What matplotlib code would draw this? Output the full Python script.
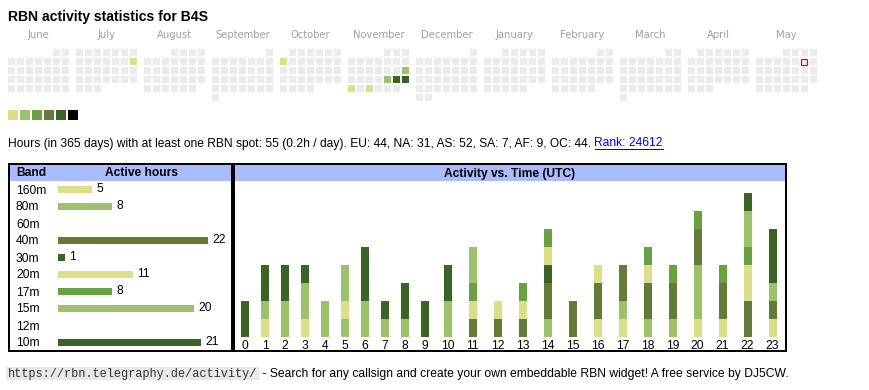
import datetime as dt
import calendar
import matplotlib
matplotlib.use("Agg")
import matplotlib.pyplot as plt
from matplotlib.patches import Rectangle

# ---------------- data ----------------
callsign = "B4S"
month_names = ["June", "July", "August", "September", "October", "November",
               "December", "January", "February", "March", "April", "May"]
first_year, first_month = 2024, 6
today = dt.date(2025, 5, 10)
active_days = [dt.date(2024, 7, 14), dt.date(2024, 10, 7), dt.date(2024, 11, 17),
               dt.date(2024, 11, 22), dt.date(2024, 11, 23), dt.date(2024, 11, 24),
               dt.date(2024, 11, 25), dt.date(2024, 11, 27)]
active_levels = [0, 0, 1, 1, 4, 4, 0, 0]
palette = ["#dae08a", "#9dc06a", "#68a044", "#647a38", "#3a6326", "#000000"]

total_hours = 55
per_day = "0.2h / day"
continents = ["EU", "NA", "AS", "SA", "AF", "OC"]
continent_hours = [44, 31, 52, 7, 9, 44]
rank = 24612

bands = ["160m", "80m", "60m", "40m", "30m", "20m", "17m", "15m", "12m", "10m"]
band_hours = [5, 8, 0, 22, 1, 11, 8, 20, 0, 21]
band_level = [0, 1, 2, 3, 4, 0, 2, 1, 3, 4]

hour_labels = [str(h) for h in range(24)]
h160 = [0, 0, 0, 0, 0, 0, 0, 0, 0, 0, 0, 0, 0, 0, 0, 0, 1, 1, 0, 0, 1, 1, 0, 1]
h80 = [0, 0, 0, 0, 0, 1, 0, 0, 0, 0, 0, 0, 0, 0, 1, 0, 0, 1, 1, 1, 3, 0, 0, 0]
h60 = [0] * 24
h40 = [0, 0, 0, 0, 0, 0, 0, 0, 0, 0, 0, 1, 1, 1, 2, 2, 2, 2, 2, 2, 2, 2, 2, 1]
h30 = [0, 0, 0, 0, 0, 0, 0, 0, 0, 0, 0, 0, 0, 0, 1, 0, 0, 0, 0, 0, 0, 0, 0, 0]
h20 = [0, 1, 0, 1, 0, 1, 0, 0, 0, 0, 0, 1, 1, 1, 1, 0, 1, 0, 1, 0, 0, 0, 2, 0]
h17 = [0, 0, 0, 0, 0, 0, 0, 0, 0, 0, 0, 1, 0, 1, 1, 0, 0, 0, 1, 1, 1, 1, 1, 0]
h15 = [0, 1, 2, 2, 2, 2, 2, 1, 1, 0, 2, 2, 0, 0, 0, 0, 0, 0, 0, 0, 0, 0, 2, 1]
h12 = [0] * 24
h10 = [2, 2, 2, 1, 0, 0, 3, 1, 2, 2, 2, 0, 0, 0, 0, 0, 0, 0, 0, 0, 0, 0, 1, 3]
hourly = [h160, h80, h60, h40, h30, h20, h17, h15, h12, h10]

footer_url = "https://rbn.telegraphy.de/activity/"
footer_text = " - Search for any callsign and create your own embeddable RBN widget! A free service by DJ5CW."

# ---------------- layout ----------------
W, H = 870, 390
PT = 0.72  # px -> pt at 100 dpi
SANS = ["Liberation Sans", "DejaVu Sans"]
FS = 12 * PT
header_blue = "#aabbff"
cell_gray = "#ebebeb"

fig = plt.figure(figsize=(W / 100, H / 100), dpi=100)


def px_axes(x0, y0, x1, y1):
    return fig.add_axes([x0 / W, 1 - y1 / H, (x1 - x0) / W, (y1 - y0) / H])


bg = px_axes(0, 0, W, H)
bg.set_xlim(0, W)
bg.set_ylim(H, 0)
bg.axis("off")

# title
bg.text(8, 21, f"RBN activity statistics for {callsign}", family=SANS,
        fontweight="bold", fontsize=14 * PT, va="baseline", ha="left")

# calendar heat map
HM_X0, HM_Y0, PITCH, CELL, MPITCH = 8, 49, 9, 7, 68
level_of = dict(zip(active_days, active_levels))
for m, name in enumerate(month_names):
    y = first_year + (first_month - 1 + m) // 12
    mo = (first_month - 1 + m) % 12 + 1
    fw = dt.date(y, mo, 1).weekday()
    nd = calendar.monthrange(y, mo)[1]
    bx = HM_X0 + m * MPITCH
    bg.text(bx + (7 * PITCH - (PITCH - CELL)) / 2, 38, name, family="DejaVu Sans",
            fontsize=10 * PT, color="#a0a0a0", ha="center", va="baseline")
    for d in range(1, nd + 1):
        day = dt.date(y, mo, d)
        row, col = divmod(d - 1 + fw, 7)
        fc = palette[level_of[day]] if day in level_of else cell_gray
        if day == today:
            bg.add_patch(Rectangle((bx + col * PITCH + 0.5, HM_Y0 + row * PITCH + 0.5),
                                   CELL - 1, CELL - 1, fc=cell_gray, ec="#ff0000", lw=1.2 * PT))
        else:
            bg.add_patch(Rectangle((bx + col * PITCH, HM_Y0 + row * PITCH), CELL, CELL,
                                   fc=fc, ec="none"))

# colour legend
for i, c in enumerate(palette):
    bg.add_patch(Rectangle((8 + i * 12, 110), 10, 10, fc=c, ec="none"))

# statistics line
cont = ", ".join(f"{c}: {v}" for c, v in zip(continents, continent_hours))
stat = (f"Hours (in 365 days) with at least one RBN spot: {total_hours} ({per_day}). "
        f"{cont}. ")
t_stat = bg.text(8, 146.5, stat, family=SANS, fontsize=FS, va="baseline", ha="left")

# boxes
bg.add_patch(Rectangle((9, 164), 223.5, 187, fill=False, ec="black", lw=2 * PT))
bg.add_patch(Rectangle((10, 165), 221.5, 16, fc=header_blue, ec="none"))
bg.add_patch(Rectangle((234.5, 164), 551.5, 187, fill=False, ec="black", lw=2 * PT))
bg.add_patch(Rectangle((235.5, 165), 549.5, 16, fc=header_blue, ec="none"))
bg.text(16, 176.5, "Band", family=SANS, fontweight="bold", fontsize=FS,
        va="baseline", ha="left")
bg.text(142, 176.5, "Active hours", family=SANS, fontweight="bold", fontsize=FS,
        va="baseline", ha="center")
bg.text(510, 176.5, "Activity vs. Time (UTC)", family=SANS, fontweight="bold",
        fontsize=FS, va="baseline", ha="center")

# band table
BX0, BX1, PXH = 58, 232, 6.8
axb = px_axes(BX0, 180.5, BX1, 350.5)
axb.set_xlim(0, (BX1 - BX0) / PXH)
axb.set_ylim(len(bands) - 0.5, -0.5)
ypos = list(range(len(bands)))
axb.barh(ypos, band_hours, height=7 / 17, color=[palette[l] for l in band_level])
for i, v in enumerate(band_hours):
    if v:
        axb.text(v + 4.5 / PXH, i, str(v), family=SANS, fontsize=FS,
                 va="center", ha="left")
axb.set_xticks([])
axb.set_yticks(ypos)
axb.set_yticklabels(bands, family=SANS, fontsize=FS, ha="left")
axb.tick_params(axis="y", length=0, pad=(BX0 - 16) * PT)
for s in axb.spines.values():
    s.set_visible(False)
axb.patch.set_visible(False)

# activity vs time
AX0, AX1, BASE, UNIT = 235, 785, 336.7, 18
axa = px_axes(AX0, 181, AX1, BASE)
col_w = [15 + 5 * len(lbl) for lbl in hour_labels]
centers, acc = [], 0
for w in col_w:
    centers.append(acc + w / 2)
    acc += w
axa.set_xlim(0, AX1 - AX0)
axa.set_ylim(0, (BASE - 181) / UNIT)
bottom = [0] * 24
for vals, lvl in zip(hourly, band_level):
    if any(vals):
        axa.bar(centers, vals, width=8, bottom=bottom, color=palette[lvl], linewidth=0)
        bottom = [b + v for b, v in zip(bottom, vals)]
axa.set_xticks(centers)
axa.set_xticklabels(hour_labels, family=SANS, fontsize=FS)
axa.tick_params(axis="x", length=0, pad=3 * PT)
axa.set_yticks([])
for s in axa.spines.values():
    s.set_visible(False)
axa.patch.set_visible(False)

# text that follows other text
fig.canvas.draw()
r = fig.canvas.get_renderer()
inv = bg.transData.inverted()
ext = t_stat.get_window_extent(r)
x_end = inv.transform((ext.x1, ext.y0))[0]
t_rank = bg.text(x_end, 146.5, f"Rank: {rank}", family=SANS, fontsize=FS,
                 color="#0000ee", va="baseline", ha="left")
fig.canvas.draw()
e2 = t_rank.get_window_extent(r)
(x0, _), (x1, _) = inv.transform((e2.x0, e2.y0)), inv.transform((e2.x1, e2.y0))
bg.plot([x0, x1], [148.5, 148.5], color="#0000ee", lw=1 * PT)

t_url = bg.text(8, 377, footer_url, family=["Liberation Mono", "DejaVu Sans Mono"],
                fontsize=11.9 * PT, color="#333333", va="baseline", ha="left", zorder=3)
fig.canvas.draw()
e3 = t_url.get_window_extent(r)
ux1 = inv.transform((e3.x1, e3.y0))[0]
bg.add_patch(Rectangle((6.5, 366.5), ux1 - 6.5 + 1.5, 13.5, fc="#e8e8e8", ec="none", zorder=2))
bg.text(ux1 + 2, 377, footer_text, family=SANS, fontsize=12.1 * PT,
        va="baseline", ha="left")

fig.savefig("out.png", dpi=100)
